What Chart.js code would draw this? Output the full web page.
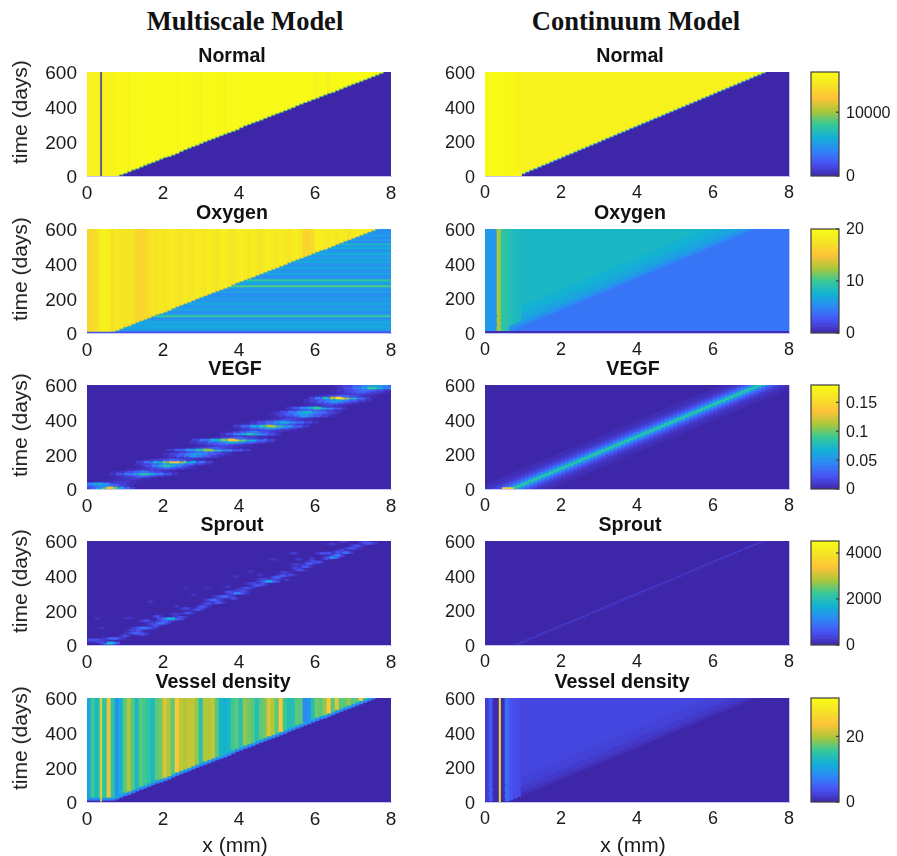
<!DOCTYPE html>
<html>
<head>
<meta charset="utf-8">
<title>Multiscale vs continuum model</title>
<script src="https://cdn.jsdelivr.net/npm/chart.js@4"></script>
<style>
  html, body { margin: 0; background: #fff; }
  #page { position: relative; width: 897px; height: 856px; overflow: hidden; }
  canvas { position: absolute; filter: blur(0.35px); }
  .lbl { position: absolute; white-space: nowrap; color: #1a1a1a; font-family: "Liberation Sans", sans-serif; font-size: 21px; }
  .head { position: absolute; white-space: nowrap; color: #111; font-family: "Liberation Serif", serif; font-weight: bold; font-size: 26.5px; }
</style>
</head>
<body>
<div id="page"></div>
<script>
// ---- values ----
const panelTitles = ['Normal', 'Oxygen', 'VEGF', 'Sprout', 'Vessel density'];
const xTicksStep = 2;
const tTicksStep = 200;
const colorMax = [16300, 20, 0.18, 4520, 31.7];
const colorTicks = [[0, 10000], [0, 10, 20], [0, 0.05, 0.1, 0.15], [0, 2000, 4000], [0, 20]];

// front position: time at which the front passes each of the 76 x columns (below 0 = not on the plot)
const multiFront = [-60,-52,-43,-34,-25,-16,-7,3,12,20,30,40,47,57,67,76,84,93,103,112,118,126,135,147,157,166,175,183,193,203,212,220,229,238,247,255,263,272,284,295,303,312,320,328,338,347,356,365,373,382,391,400,411,420,429,437,446,454,464,473,482,488,498,507,517,526,535,543,552,561,570,579,588,597,606,615];
const multiFrontEarly = [-43,-34,-25,-16,-7,3,12,20,30,40,47,57,67,76,84,93,103,112,118,126,135,147,157,166,175,183,193,203,212,220,229,238,247,255,263,272,284,295,303,312,320,328,338,347,356,365,373,382,391,400,411,420,429,437,446,454,464,473,482,488,498,507,517,526,535,543,552,561,570,579,588,597,606,615,624,633];
const contFront = [-69,-59,-50,-40,-30,-21,-11,-1,8,18,28,38,47,57,67,76,86,96,105,115,125,134,144,154,163,173,183,192,202,212,222,231,241,251,260,270,280,289,299,309,318,328,338,347,357,367,376,386,396,405,415,425,434,444,454,463,473,483,493,502,512,522,531,541,551,560,570,580,589,599,609,618,628,638,647,657];
const contFrontEarly = [-50,-40,-30,-21,-11,-1,8,18,28,38,47,57,67,76,86,96,105,115,125,134,144,154,163,173,183,192,202,212,222,231,241,251,260,270,280,289,299,309,318,328,338,347,357,367,376,386,396,405,415,425,434,444,454,463,473,483,493,502,512,522,531,541,551,560,570,580,589,599,609,618,628,638,647,657,667,676];

// column values behind the front, multiscale
const multiNormal = [15500,15500,15600,15600,15500,15600,15700,15900,16100,16100,15700,16100,16100,16200,16100,16100,16200,16100,16100,16200,16100,16100,16000,16100,16200,16100,16100,16100,15700,16100,16100,16200,16100,16100,15700,16100,16100,16200,16100,16100,16100,16200,16100,16100,16100,16200,16100,16100,16100,16200,16100,16100,16100,16100,16100,16100,16100,15600,16100,16100,15500,16100,16100,16200,16100,16200,16100,16200,16100,16200,16100,16200,16100,16200,16100,16200];
const multiOxygen = [16.6,16.7,17.3,18.8,19,18.7,17.4,18.3,17.7,17.5,17.6,17.7,16.5,16.4,16.6,17.3,17.8,17.6,18.1,17.7,18,18.4,17.9,17.6,18.2,17.9,17.7,18.3,18,17.8,18.6,18.2,17.8,18.4,18.6,18,17.8,18.2,18.8,18.3,17.9,18.5,18.1,17.8,18.3,18.7,18.2,17.9,18.5,18.2,17.8,18.3,18.6,17.9,16.6,16.4,17,18.6,18.8,18.3,18,18.5,17.9,18.4,18.2,17.8,18,18.5,18.3,18,18.4,18.1,17.9,18.2,18,18];
const multiVessel = [11,16,13,17,15,23,15,9,12,17,20,17,13,17,16,15,13,17,18,22,20,17,24,21,20,21,21,19,14,20,20,21,17,13,12,13,16,17,14,19,18,17,14,17,18,22,20,17,24,16,14,14,17,17,8,9,14,18,17,19,24,17,22,17,17,19,17,17,25,16,13,9,13,10,9,9];

// oxygen in the 52 time rows ahead of the front, multiscale
const multiOxygenRows = [2.6,6.2,6.7,6.9,6.5,7,6.1,5.3,10,6.2,5.2,6.7,6.5,5.3,7.1,6.2,5.7,6.3,5.7,5.1,6.7,5.4,6.4,10.5,6.2,6.9,9.7,5.7,5.3,6.7,6.2,5.5,6.9,6.1,5.3,7.2,6.2,6.7,5.7,7.3,6.3,5.5,7.5,6.1,8.2,5.2,6.5,5.1,6.3,5.9,5.6,5.5];

// VEGF multiscale, one streak per time row
const vegfT = [6,17,29,40,52,63,75,87,98,110,121,133,144,156,167,179,190,202,213,225,236,248,260,271,283,294,306,317,329,340,352,363,375,386,398,410,421,433,444,456,467,479,490,502,513,525,536,548,560,571,583,594];
const vegfX = [0.6,0.4,0.3,0.9,1,1.2,1.4,1.5,1.5,1.7,2.1,2.1,2.25,2.3,2.3,2.7,2.8,2.9,3.1,3.2,3.4,3.6,3.6,3.8,3.85,4,4.3,4.3,4.4,4.7,4.8,4.85,5,5.2,5.3,5.5,5.7,5.7,5.8,6,6.05,6.3,6.4,6.5,6.6,6.65,6.8,7.1,7.2,7.3,7.5,7.6];
const vegfHalf = [0.65,0.8,0.95,0.7,0.6,0.65,0.8,0.9,0.8,0.7,0.8,0.7,1,1,0.8,0.8,0.8,0.9,0.8,1.1,0.8,0.8,0.9,1.1,1.1,0.8,0.8,0.8,0.7,0.8,0.9,1,0.9,0.9,0.7,0.65,0.8,0.9,0.9,0.8,0.8,0.65,0.7,0.8,0.9,0.8,0.8,0.8,0.8,0.9,0.9,1.1];
const vegfPeak = [0.13,0.05,0.06,0.012,0.008,0.012,0.03,0.085,0.04,0.015,0.03,0.085,0.06,0.135,0.03,0.012,0.05,0.055,0.04,0.105,0.025,0.015,0.03,0.07,0.135,0.03,0.012,0.08,0.04,0.02,0.06,0.115,0.04,0.065,0.02,0.015,0.05,0.055,0.07,0.03,0.085,0.012,0.02,0.05,0.06,0.155,0.03,0.015,0.03,0.035,0.09,0.06];

// sprout multiscale, scattered flecks along the front
const sproutT = [11,29,38,19,69,98,122,151,126,165,178,155,153,98,250,203,224,260,280,299,328,343,368,391,404,433,452,481,504,516,533,558,587,529,529,495,395,424,328,328,337,290,222,404,596,583,495,500,85,140,210,270,315,355,380,420,465,545,52,85,62,112,138,160,185,215,240,245,305,270,310,355,350,380,400,375,445,470,478,500,530,535,572,592];
const sproutX = [0.61,0.18,0.7,0.35,1.3,1.5,1.7,2.2,1.95,1.85,2.35,1.1,0.26,0.4,1.67,2.9,3.07,3.33,3.6,3.95,4.2,4.47,4.78,5,5.35,5.6,5.75,5.96,6.45,6.58,6.8,6.97,7.4,6.2,5.44,4.9,3.9,4.3,2.6,3.16,3.7,2.8,2.37,4.56,6.75,6.45,5.57,5.92,1.2,1.55,2.6,3.5,4,4.35,4.65,5.2,5.5,6.7,1,1.35,1.45,1.8,2.05,2.45,2.65,3,3.2,3.45,3.75,3.85,4.1,4.4,4.6,4.95,5.15,5.25,5.5,5.85,6.1,6.3,6.35,6.6,7.1,7.3];
const sproutHalf = [0.25,0.5,0.3,0.3,0.3,0.35,0.2,0.35,0.25,0.15,0.2,0.2,0.1,0.1,0.1,0.2,0.2,0.25,0.3,0.3,0.25,0.2,0.3,0.2,0.2,0.2,0.2,0.2,0.2,0.2,0.2,0.25,0.25,0.2,0.15,0.15,0.1,0.1,0.1,0.1,0.1,0.1,0.1,0.1,0.15,0.15,0.1,0.1,0.2,0.2,0.2,0.2,0.2,0.2,0.2,0.2,0.2,0.2,0.15,0.15,0.2,0.15,0.25,0.2,0.2,0.15,0.2,0.2,0.2,0.15,0.2,0.15,0.2,0.15,0.2,0.1,0.15,0.2,0.15,0.15,0.2,0.15,0.2,0.15];
const sproutPeak = [1800,500,700,400,700,900,400,1700,900,500,300,200,200,200,200,500,500,800,800,1000,500,600,1500,700,400,500,600,500,1200,1000,900,500,600,500,300,200,200,200,150,200,200,200,200,250,300,300,300,300,400,500,400,400,400,400,400,300,300,400,500,600,500,600,700,500,500,600,500,600,500,500,500,400,500,500,600,300,400,600,500,500,500,600,500,500];

// left-hand columns of the continuum panels, before they settle
const contNormalLeft = [16100,16100,16100,16100,16100,16100,16000,15900];
const contOxygenLeft = [6,6,6,12.5,9.5,9.2];
const contOxygenShoulder = [0,0,0,0,0,0,8.8,8.5,8.3];
const contVesselLeft = [2,4.5,0.4,0.4,0.5,6,4,3.5,3.2];

// fringe levels around the fronts: days relative to the front, then value
const contOxygenOffsets = [5,15,35,75,125];
const contOxygenLevels = [5,5.8,6.8,7.6,8.2];
const contVesselOffsets = [3,25,60,110];
const contVesselLevels = [1,1.8,2.4,2.9];
const contVegfWidths = [90,65,46,32,20,11,5,2];
const contVegfLevels = [0.004,0.009,0.018,0.03,0.045,0.06,0.075,0.088];

// ---- helpers ----
const PARULA = [
  [0, 62, 38, 168], [0.125, 72, 82, 244], [0.25, 46, 135, 247], [0.375, 18, 177, 214],
  [0.5, 55, 200, 151], [0.625, 171, 199, 57], [0.75, 254, 195, 56], [0.875, 245, 227, 38], [1, 249, 251, 21]
];
function colorOf(v, max) {
  const t = Math.min(1, Math.max(0, v / max));
  let k = 0;
  while (k < PARULA.length - 2 && t > PARULA[k + 1][0]) k++;
  const a = PARULA[k], b = PARULA[k + 1];
  const f = (t - a[0]) / (b[0] - a[0]);
  return `rgb(${[1, 2, 3].map(n => Math.round(a[n] + (b[n] - a[n]) * f)).join(',')})`;
}
const COLS = 76, ROWS = 52;
const colX = i => (i + 0.5) * 8 / COLS;
const rowT = i => (i + 0.5) * 600 / ROWS;

// whole-width fill
function fillSet(v, max) {
  return { indexAxis: 'y', barThickness: 106, data: [{ y: 300, x: [0, 8] }], backgroundColor: colorOf(v, max) };
}
// a set of vertical bars, one per column. lo/hi give the floating range, val the value
function columnSet(front, lo, hi, val, max) {
  const data = [], colors = [];
  front.forEach((f, i) => {
    const a = lo(f, i), b = hi(f, i);
    if (a >= 600 || b <= 0 || b <= a) return;
    data.push({ x: colX(i), y: [a, b] });
    colors.push(colorOf(val(i), max));
  });
  return { barThickness: 4, data, backgroundColor: colors };
}
const fromFront = (off, floor) => f => Math.max(floor, f + off);
const toTop = () => 600;
// horizontal streaks: each entry of the tier list is [share of the half length, share of the peak]
const LENS = [[1, 0.1], [0.8, 0.25], [0.55, 0.5], [0.3, 0.75], [0.12, 1]];
const SPECK = [[1, 0.3], [0.6, 0.6], [0.3, 1]];
function streakSets(ts, xs, halves, peaks, max, tiers) {
  return tiers.map(([w, p]) => ({
    indexAxis: 'y', barThickness: 2,
    data: ts.map((t, i) => ({ y: t, x: [xs[i] - halves[i] * w, xs[i] + halves[i] * w] })),
    backgroundColor: peaks.map(v => colorOf(v * p, max))
  }));
}
function rowSet(values, max) {
  return {
    indexAxis: 'y', barThickness: 2,
    data: values.map((v, i) => ({ y: rowT(i), x: [0, 8] })),
    backgroundColor: values.map(v => colorOf(v, max))
  };
}
function hBar(t, x0, x1, v, max, thick) {
  return { indexAxis: 'y', barThickness: thick, inflateAmount: 0, data: [{ y: t, x: [x0, x1] }], backgroundColor: colorOf(v, max) };
}
function vLine(x, v, max, thick) {
  return { barThickness: thick, inflateAmount: 0, data: [{ x: x, y: [0, 600] }], backgroundColor: colorOf(v, max) };
}

// ---- datasets of each panel, listed bottom layer first ----
function multiSets(row) {
  const max = colorMax[row];
  if (row === 0) return [
    fillSet(0, max),
    columnSet(multiFront, fromFront(-6, 0), toTop, () => 9000, max),
    columnSet(multiFront, fromFront(0, 0), toTop, i => multiNormal[i], max),
    vLine(0.37, 300, max, 1.5)
  ];
  if (row === 1) return [
    fillSet(5, max),
    rowSet(multiOxygenRows, max),
    columnSet(multiFrontEarly, fromFront(-8, 11), toTop, () => 9, max),
    columnSet(multiFrontEarly, fromFront(-4, 11), toTop, () => 15, max),
    columnSet(multiFrontEarly, fromFront(0, 11), toTop, i => multiOxygen[i], max)
  ];
  if (row === 2) return [fillSet(0, max), ...streakSets(vegfT, vegfX, vegfHalf, vegfPeak, max, LENS)];
  if (row === 3) return [fillSet(0, max), ...streakSets(sproutT, sproutX, sproutHalf, sproutPeak, max, SPECK)];
  return [
    fillSet(0, max),
    columnSet(multiFrontEarly, fromFront(-4, 10), toTop, () => 7, max),
    columnSet(multiFrontEarly, fromFront(6, 20), toTop, () => 10.5, max),
    columnSet(multiFrontEarly, fromFront(16, 28), toTop, i => multiVessel[i], max),
    vLine(0.37, 26, max, 1.5)
  ];
}
function contSets(row) {
  const max = colorMax[row];
  if (row === 0) return [
    fillSet(0, max),
    columnSet(contFront, fromFront(-7, 0), toTop, () => 4000, max),
    columnSet(contFront, fromFront(-3, 0), toTop, () => 9000, max),
    columnSet(contFront, fromFront(0, 0), toTop, i => contNormalLeft[i] ?? 15500, max),
    hBar(6, 0.7, 0.97, 16000, max, 3)
  ];
  if (row === 1) return [
    fillSet(4.2, max),
    ...contOxygenOffsets.map((off, k) => columnSet(contFrontEarly, fromFront(off, 0), toTop, i => contOxygenLeft[i] ?? contOxygenLevels[k], max)),
    columnSet(contFrontEarly.slice(0, 9), (f, i) => (contOxygenShoulder[i] ? f + 40 : 600), toTop, i => contOxygenShoulder[i], max),
    hBar(3, 0, 8, 0.4, max, 3)
  ];
  if (row === 2) return [
    fillSet(0, max),
    ...contVegfWidths.map((w, k) => columnSet(contFront, f => f + 8 - w, f => f + 8 + w, () => contVegfLevels[k], max)),
    hBar(4, 0.45, 0.75, 0.14, max, 2)
  ];
  if (row === 3) return [
    fillSet(0, max),
    columnSet(contFront, f => f - 2, f => f + 2, () => 300, max)
  ];
  return [
    fillSet(0, max),
    ...contVesselOffsets.map((off, k) => columnSet(contFrontEarly, fromFront(off, 6), toTop, i => contVesselLeft[i] ?? contVesselLevels[k], max)),
    vLine(0.39, 28, max, 2)
  ];
}

// ---- page layout ----
const page = document.getElementById('page');
const rowTop = [72, 229, 385, 541, 698];
const PLOT_W = 304, PLOT_H = 104;
const TOP_SPACE = 30, BOTTOM_SPACE = 40;
const titleCentreLeft = [232, 232, 235, 232, 223];
const titleCentreRight = [630, 630, 633, 630, 622];
const EDGE = 'rgba(150,150,235,0.55)';

function addCanvas(left, top, w, h) {
  const c = document.createElement('canvas');
  c.width = w; c.height = h;
  c.style.left = left + 'px'; c.style.top = top + 'px';
  page.appendChild(c);
  return c.getContext('2d');
}
function addLabel(cls, text, cx, cy, rotate) {
  const d = document.createElement('div');
  d.className = cls;
  d.textContent = text;
  d.style.left = cx + 'px'; d.style.top = cy + 'px';
  d.style.transform = 'translate(-50%,-50%)' + (rotate ? ' rotate(-90deg)' : '');
  page.appendChild(d);
}

Chart.defaults.font.family = '"Liberation Sans", Arial, sans-serif';
Chart.defaults.color = '#1a1a1a';
Chart.defaults.animation = false;

// The panel titles sit off-centre over the plots. The title centres over the
// space between the canvas left and the right padding, so an empty axis on the
// right of the plot widens that space as far as needed.
function heatmap(ctx, sets, title, plotLeft, titleCx, canvasW, fontSize, rightEdge) {
  const plotRight = plotLeft + PLOT_W;
  const gap = 2 * titleCx - plotRight;
  sets.forEach(s => { s.grouped = false; s.borderWidth = 0; });
  return new Chart(ctx, {
    type: 'bar',
    data: { datasets: sets.slice().reverse() },   // first dataset is drawn on top
    options: {
      responsive: false,
      events: [],
      layout: { padding: { right: canvasW - plotRight - gap } },
      plugins: {
        legend: { display: false },
        tooltip: { enabled: false },
        title: {
          display: true, text: title, color: '#111',
          font: { size: 19.6, weight: 'bold' },
          padding: { top: 3.2, bottom: 3.3 }
        }
      },
      scales: {
        x: {
          type: 'linear', min: 0, max: 8, offset: false,
          grid: { display: false, drawTicks: false, offset: false },
          border: { display: true, color: EDGE, width: 1 },
          ticks: { stepSize: xTicksStep, font: { size: fontSize }, padding: 6, maxRotation: 0, autoSkip: false },
          afterFit: s => { s.height = BOTTOM_SPACE; }
        },
        y: {
          type: 'linear', min: 0, max: 600, offset: false,
          grid: { display: false, drawTicks: false, offset: false },
          border: { display: false },
          ticks: { stepSize: tTicksStep, font: { size: fontSize }, padding: 10, labelOffset: 2 },
          afterFit: s => { s.width = plotLeft; }
        },
        titleGap: {
          type: 'linear', position: 'right', min: 0, max: 1,
          grid: { display: false, drawTicks: false },
          border: { display: rightEdge, color: EDGE, width: 1 },
          ticks: { display: false },
          afterFit: s => { s.width = gap; }
        }
      }
    }
  });
}

// box and inward ticks of the colour bars
const barFrame = {
  id: 'barFrame',
  afterDatasetsDraw(chart) {
    const { ctx, chartArea: a, scales } = chart;
    ctx.save();
    ctx.strokeStyle = '#3c3c3c';
    ctx.lineWidth = 1.2;
    ctx.strokeRect(a.left, a.top, a.right - a.left, a.bottom - a.top);
    scales.y.ticks.forEach(t => {
      const y = scales.y.getPixelForValue(t.value);
      ctx.beginPath(); ctx.moveTo(a.right - 3, y); ctx.lineTo(a.right, y); ctx.stroke();
    });
    ctx.restore();
  }
};

function colorBar(ctx, row) {
  const max = colorMax[row];
  const steps = Array.from({ length: 64 }, (_, i) => i);
  return new Chart(ctx, {
    type: 'bar',
    data: {
      datasets: [{
        grouped: false, barThickness: 29, borderWidth: 0,
        data: steps.map(i => ({ x: 0.5, y: [i * max / 64, (i + 1) * max / 64] })),
        backgroundColor: steps.map(i => colorOf((i + 0.5) * max / 64, max))
      }]
    },
    options: {
      responsive: false,
      events: [],
      layout: { padding: { left: 11, top: 20, bottom: 20 } },
      plugins: { legend: { display: false }, tooltip: { enabled: false } },
      scales: {
        x: { type: 'linear', min: 0, max: 1, display: false, offset: false },
        y: {
          type: 'linear', position: 'right', min: 0, max: max, offset: false,
          grid: { display: false, drawTicks: false },
          border: { display: false },
          ticks: { font: { size: 16 }, padding: 7, labelOffset: 1, callback: v => String(v) },
          afterBuildTicks: s => { s.ticks = colorTicks[row].map(v => ({ value: v })); },
          afterFit: s => { s.width = 58; }
        }
      }
    },
    plugins: [barFrame]
  });
}

panelTitles.forEach((title, row) => {
  const top = rowTop[row] - TOP_SPACE;
  const h = TOP_SPACE + PLOT_H + BOTTOM_SPACE;

  // multiscale column: plot 87..391
  heatmap(addCanvas(0, top, 480, h), multiSets(row), title, 87, titleCentreLeft[row], 480, 19, false);

  // continuum column: plot 485..789
  const leftR = 430;
  heatmap(addCanvas(leftR, top, 430, h), contSets(row), title, 55, titleCentreRight[row] - leftR, 430, 18, true);

  // colour bar: 811..839
  colorBar(addCanvas(800, rowTop[row] - 20, 97, PLOT_H + 40), row);

  addLabel('lbl', 'time (days)', 20, rowTop[row] + 40, true);
});

addLabel('lbl', 'x (mm)', 235, 845);
addLabel('lbl', 'x (mm)', 633, 845);
addLabel('head', 'Multiscale Model', 245, 21);
addLabel('head', 'Continuum Model', 636, 21);
</script>
</body>
</html>
